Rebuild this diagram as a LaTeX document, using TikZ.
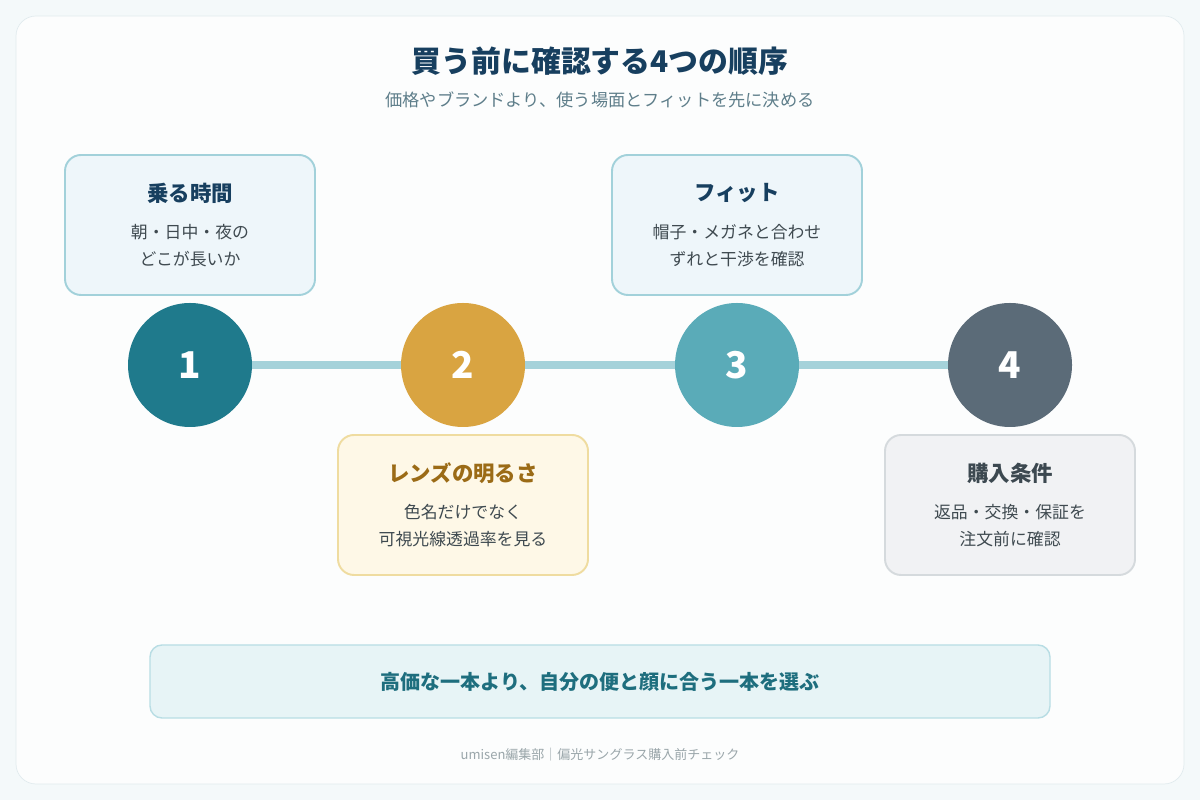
\documentclass[tikz,border=0pt]{standalone}
\usepackage{fontspec}
\setmainfont{Noto Sans CJK JP}
\usepackage{xcolor}
\definecolor{pagebg}{RGB}{244,249,250}
\definecolor{cardbg}{RGB}{252,253,253}
\definecolor{cardline}{RGB}{225,235,238}
\definecolor{navy}{RGB}{23,63,95}
\definecolor{subgray}{RGB}{94,126,138}
\definecolor{bodygray}{RGB}{63,74,80}
\definecolor{tealdark}{RGB}{31,122,140}
\definecolor{mustard}{RGB}{217,164,65}
\definecolor{teallight}{RGB}{90,171,184}
\definecolor{slate}{RGB}{91,107,120}
\definecolor{track}{RGB}{165,210,218}
\definecolor{bluefill}{RGB}{238,246,250}
\definecolor{blueline}{RGB}{162,209,218}
\definecolor{yelfill}{RGB}{254,248,231}
\definecolor{yelline}{RGB}{239,220,160}
\definecolor{yeltext}{RGB}{155,107,22}
\definecolor{grayfill}{RGB}{241,242,244}
\definecolor{grayline}{RGB}{213,218,221}
\definecolor{graytext}{RGB}{60,72,80}
\definecolor{notefill}{RGB}{231,244,246}
\definecolor{noteline}{RGB}{184,221,228}
\definecolor{notetext}{RGB}{30,110,126}
\definecolor{footgray}{RGB}{154,166,170}
\usetikzlibrary{positioning,calc}

\begin{document}
\begin{tikzpicture}[
  stepcard/.style={rounded corners=0.32cm, line width=1.1pt, minimum width=5cm, minimum height=2.8cm},
  cardtitle/.style={font=\fontsize{12.2}{14}\selectfont\bfseries},
  cardbody/.style={font=\fontsize{9.6}{12}\selectfont, text=bodygray},
  stepdot/.style={circle, minimum size=2.48cm, inner sep=0pt, text=white, font=\fontsize{21}{24}\selectfont\bfseries}
]
  \fill[pagebg] (0,0) rectangle (24,16);
  \draw[cardline, fill=cardbg, rounded corners=0.4cm] (0.32,0.32) rectangle (23.68,15.68);

  \node[text=navy, font=\fontsize{17}{20}\selectfont\bfseries] (title) at (12,14.78) {買う前に確認する4つの順序};
  \node[text=subgray, font=\fontsize{9.8}{12}\selectfont] (subtitle) at (12,14.0) {価格やブランドより、使う場面とフィットを先に決める};

  % timeline
  \node[stepdot, fill=tealdark] (c1) at (3.8,8.7) {1};
  \node[stepdot, fill=mustard] (c2) at (9.26,8.7) {2};
  \node[stepdot, fill=teallight] (c3) at (14.74,8.7) {3};
  \node[stepdot, fill=slate] (c4) at (20.2,8.7) {4};
  \draw[track, line width=4.5pt] (c1) -- (c2);
  \draw[track, line width=4.5pt] (c2) -- (c3);
  \draw[track, line width=4.5pt] (c3) -- (c4);

  % cards
  \node[stepcard, draw=blueline, fill=bluefill] (b1) at (3.8,11.5) {};
  \node[cardtitle, text=navy] at ($(b1.center)+(0,0.64)$) {乗る時間};
  \node[cardbody] at ($(b1.center)+(0,-0.14)$) {朝・日中・夜の};
  \node[cardbody] at ($(b1.center)+(0,-0.68)$) {どこが長いか};

  \node[stepcard, draw=yelline, fill=yelfill] (b2) at (9.26,5.9) {};
  \node[cardtitle, text=yeltext] at ($(b2.center)+(0,0.64)$) {レンズの明るさ};
  \node[cardbody] at ($(b2.center)+(0,-0.14)$) {色名だけでなく};
  \node[cardbody] at ($(b2.center)+(0,-0.68)$) {可視光線透過率を見る};

  \node[stepcard, draw=blueline, fill=bluefill] (b3) at (14.74,11.5) {};
  \node[cardtitle, text=navy] at ($(b3.center)+(0,0.64)$) {フィット};
  \node[cardbody] at ($(b3.center)+(0,-0.14)$) {帽子・メガネと合わせ};
  \node[cardbody] at ($(b3.center)+(0,-0.68)$) {ずれと干渉を確認};

  \node[stepcard, draw=grayline, fill=grayfill] (b4) at (20.2,5.9) {};
  \node[cardtitle, text=graytext] at ($(b4.center)+(0,0.64)$) {購入条件};
  \node[cardbody] at ($(b4.center)+(0,-0.14)$) {返品・交換・保証を};
  \node[cardbody] at ($(b4.center)+(0,-0.68)$) {注文前に確認};

  % summary
  \node[draw=noteline, fill=notefill, rounded corners=0.24cm, line width=0.8pt, minimum width=18cm, minimum height=1.46cm, text=notetext, font=\fontsize{11.4}{14}\selectfont\bfseries] (note) at (12,2.37) {高価な一本より、自分の便と顔に合う一本を選ぶ};
  \node[text=footgray, font=\fontsize{7.4}{9}\selectfont] (foot) at (12,0.9) {umisen編集部｜偏光サングラス購入前チェック};
\end{tikzpicture}
\end{document}
